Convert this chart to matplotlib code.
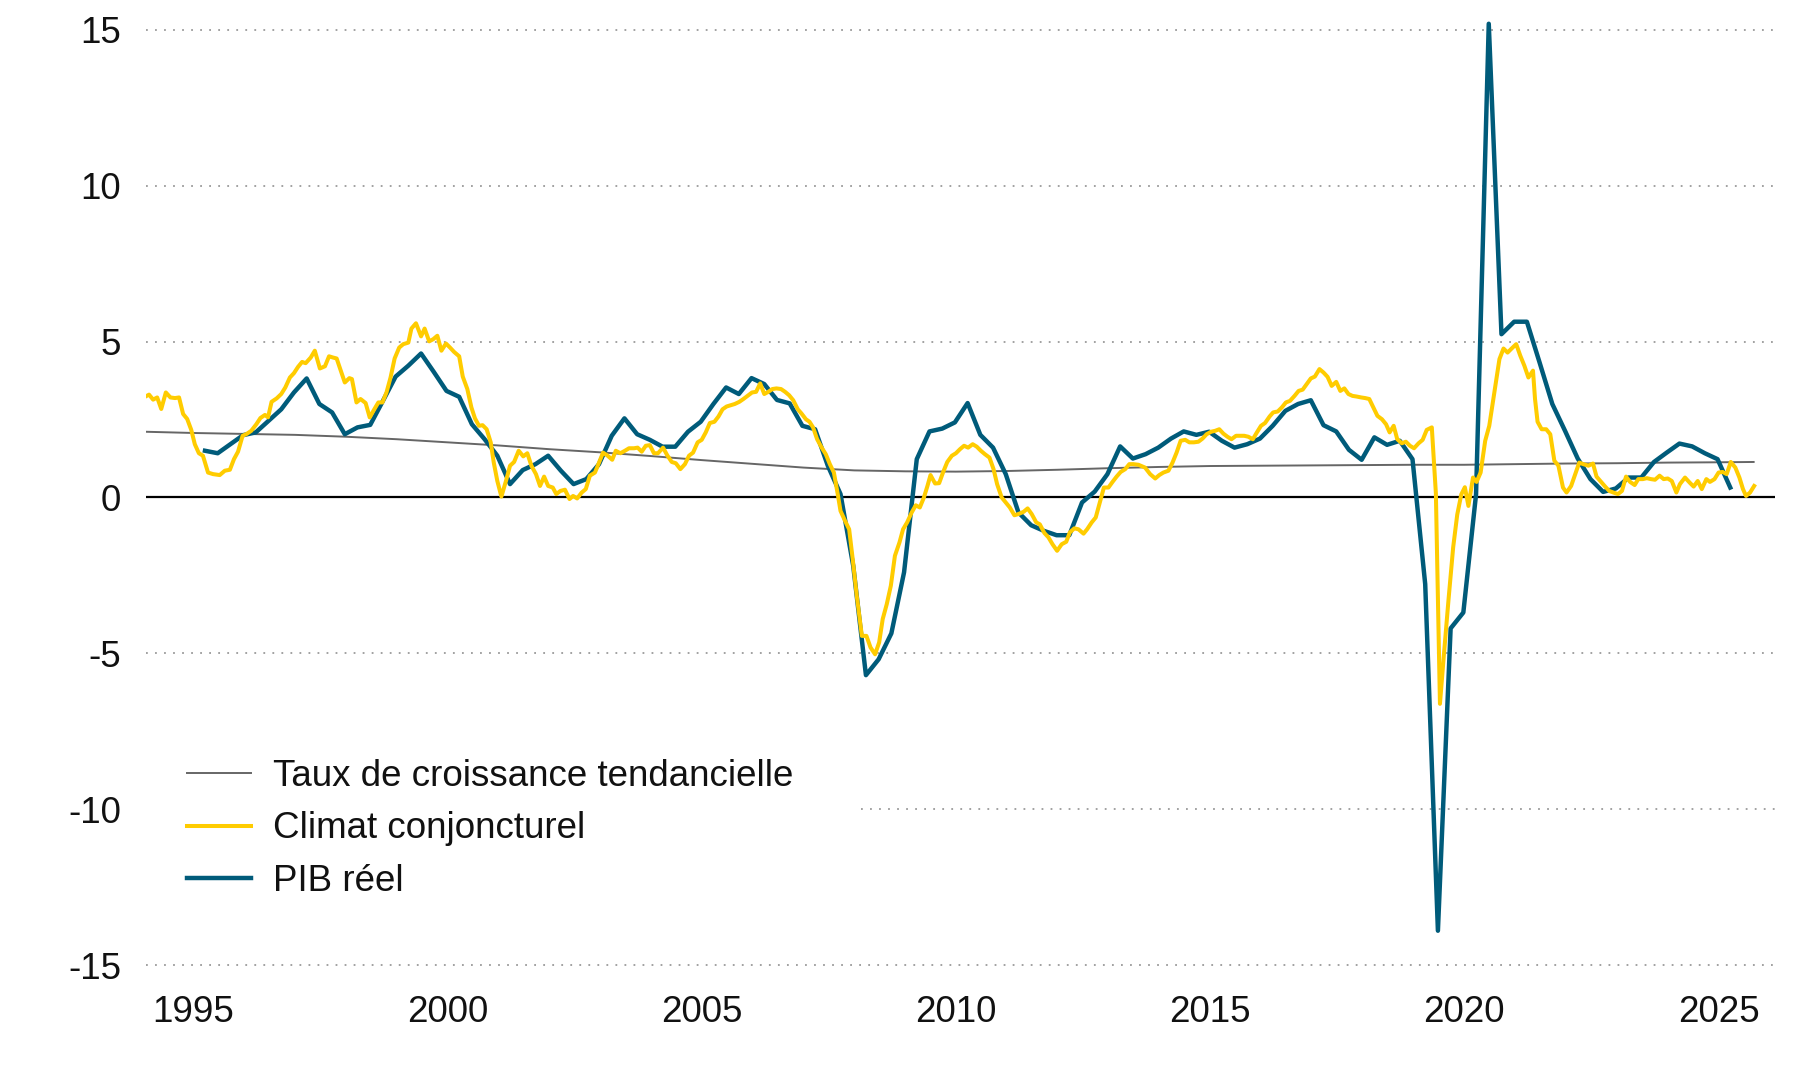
import matplotlib
matplotlib.use("Agg")
import matplotlib.pyplot as plt

plt.rcParams['font.family'] = ['Liberation Sans', 'DejaVu Sans']
plt.rcParams['axes.unicode_minus'] = False

# ---------------- data ----------------
trend_years = [1994.05, 1995, 1996, 1997, 1998, 1999, 2000, 2001, 2002, 2003, 2004,
               2005, 2006, 2007, 2008, 2009, 2010, 2011, 2012, 2013, 2014, 2015,
               2016, 2017, 2018, 2019, 2020, 2021, 2022, 2023, 2024, 2025, 2025.69]
trend_values = [2.11, 2.07, 2.04, 2.01, 1.95, 1.87, 1.77, 1.67, 1.55, 1.45, 1.33,
                1.20, 1.08, 0.96, 0.87, 0.84, 0.83, 0.85, 0.89, 0.94, 0.98, 1.01,
                1.02, 1.03, 1.04, 1.05, 1.05, 1.07, 1.09, 1.10, 1.12, 1.13, 1.14]

climat_years = [
    1994.05, 1994.13, 1994.21, 1994.29, 1994.37, 1994.46, 1994.55, 1994.64, 1994.72, 1994.80,
    1994.88, 1994.96, 1995.03, 1995.11, 1995.19, 1995.29, 1995.39, 1995.52, 1995.62, 1995.72,
    1995.80, 1995.88, 1995.97, 1996.05, 1996.14, 1996.24, 1996.32, 1996.41, 1996.47, 1996.54,
    1996.64, 1996.73, 1996.81, 1996.90, 1996.98, 1997.06, 1997.14, 1997.21, 1997.31, 1997.39,
    1997.49, 1997.59, 1997.67, 1997.75, 1997.82, 1997.90, 1997.98, 1998.07, 1998.12, 1998.21,
    1998.29, 1998.39, 1998.47, 1998.56, 1998.64, 1998.72, 1998.80, 1998.88, 1998.96, 1999.05,
    1999.13, 1999.23, 1999.29, 1999.38, 1999.48, 1999.55, 1999.64, 1999.72, 1999.80, 1999.88,
    1999.97, 2000.05, 2000.13, 2000.23, 2000.30, 2000.39, 2000.47, 2000.54, 2000.62, 2000.69,
    2000.77, 2000.85, 2000.91, 2000.98, 2001.06, 2001.15, 2001.23, 2001.31, 2001.40, 2001.49,
    2001.57, 2001.65, 2001.74, 2001.82, 2001.90, 2001.98, 2002.07, 2002.14, 2002.22, 2002.31,
    2002.40, 2002.47, 2002.55, 2002.64, 2002.72, 2002.80, 2002.90, 2002.98, 2003.06, 2003.15,
    2003.24, 2003.31, 2003.40, 2003.49, 2003.57, 2003.67, 2003.74, 2003.82, 2003.90, 2003.98,
    2004.06, 2004.14, 2004.24, 2004.32, 2004.41, 2004.49, 2004.58, 2004.67, 2004.75, 2004.83,
    2004.92, 2005.00, 2005.08, 2005.16, 2005.25, 2005.33, 2005.41, 2005.49, 2005.57, 2005.65,
    2005.74, 2005.82, 2005.90, 2005.99, 2006.07, 2006.15, 2006.23, 2006.31, 2006.39, 2006.47,
    2006.56, 2006.64, 2006.72, 2006.80, 2006.89, 2006.96, 2007.05, 2007.12, 2007.19, 2007.27,
    2007.36, 2007.44, 2007.52, 2007.60, 2007.67, 2007.73, 2007.82, 2007.90, 2007.97, 2008.05,
    2008.15, 2008.24, 2008.32, 2008.41, 2008.49, 2008.56, 2008.64, 2008.72, 2008.80, 2008.89,
    2008.96, 2009.04, 2009.13, 2009.21, 2009.29, 2009.37, 2009.44, 2009.50, 2009.59, 2009.67,
    2009.75, 2009.83, 2009.92, 2010.00, 2010.08, 2010.16, 2010.24, 2010.33, 2010.41, 2010.49,
    2010.57, 2010.66, 2010.74, 2010.81, 2010.90, 2010.98, 2011.06, 2011.15, 2011.23, 2011.33,
    2011.41, 2011.49, 2011.58, 2011.65, 2011.74, 2011.82, 2011.90, 2011.99, 2012.08, 2012.17,
    2012.24, 2012.33, 2012.41, 2012.51, 2012.58, 2012.67, 2012.75, 2012.83, 2012.91, 2013.00,
    2013.08, 2013.16, 2013.24, 2013.33, 2013.41, 2013.49, 2013.59, 2013.72, 2013.82, 2013.92,
    2014.00, 2014.08, 2014.18, 2014.26, 2014.34, 2014.42, 2014.51, 2014.59, 2014.68, 2014.77,
    2014.85, 2014.93, 2015.02, 2015.10, 2015.18, 2015.26, 2015.34, 2015.42, 2015.51, 2015.59,
    2015.67, 2015.75, 2015.84, 2015.92, 2016.00, 2016.08, 2016.17, 2016.24, 2016.33, 2016.41,
    2016.49, 2016.57, 2016.66, 2016.74, 2016.82, 2016.90, 2016.98, 2017.06, 2017.15, 2017.23,
    2017.31, 2017.39, 2017.48, 2017.56, 2017.64, 2017.72, 2017.80, 2017.88, 2017.97, 2018.05,
    2018.13, 2018.21, 2018.29, 2018.38, 2018.46, 2018.53, 2018.61, 2018.68, 2018.77, 2018.85,
    2018.93, 2019.01, 2019.10, 2019.18, 2019.26, 2019.36, 2019.44, 2019.52, 2019.60, 2019.69,
    2019.78, 2019.86, 2019.94, 2020.01, 2020.08, 2020.17, 2020.24, 2020.32, 2020.41, 2020.49,
    2020.56, 2020.62, 2020.69, 2020.77, 2020.85, 2020.93, 2021.02, 2021.10, 2021.18, 2021.26,
    2021.35, 2021.39, 2021.44, 2021.52, 2021.61, 2021.69, 2021.77, 2021.85, 2021.94, 2022.01,
    2022.10, 2022.18, 2022.26, 2022.34, 2022.44, 2022.53, 2022.60, 2022.69, 2022.77, 2022.85,
    2022.93, 2023.02, 2023.10, 2023.18, 2023.26, 2023.35, 2023.42, 2023.51, 2023.59, 2023.67,
    2023.75, 2023.84, 2023.92, 2024.00, 2024.08, 2024.17, 2024.24, 2024.34, 2024.43, 2024.51,
    2024.59, 2024.67, 2024.76, 2024.83, 2024.92, 2025.00, 2025.08, 2025.16, 2025.24, 2025.33,
    2025.41, 2025.48, 2025.54, 2025.62, 2025.70]
climat_values = [
    3.23, 3.30, 3.14, 3.21, 2.84, 3.37, 3.21, 3.19, 3.21, 2.68,
    2.52, 2.17, 1.71, 1.42, 1.34, 0.80, 0.75, 0.72, 0.86, 0.89,
    1.23, 1.47, 1.98, 2.04, 2.14, 2.35, 2.55, 2.65, 2.57, 3.07,
    3.18, 3.32, 3.53, 3.85, 3.99, 4.19, 4.35, 4.31, 4.49, 4.71,
    4.14, 4.21, 4.53, 4.49, 4.46, 4.07, 3.69, 3.83, 3.80, 3.05,
    3.16, 3.03, 2.57, 2.83, 3.05, 3.05, 3.37, 3.85, 4.46, 4.81,
    4.92, 4.97, 5.42, 5.59, 5.17, 5.42, 5.01, 5.08, 5.19, 4.71,
    4.94, 4.81, 4.67, 4.53, 3.88, 3.48, 2.89, 2.54, 2.30, 2.32,
    2.19, 1.77, 1.12, 0.53, 0.03, 0.53, 1.02, 1.14, 1.50, 1.32,
    1.42, 1.02, 0.75, 0.37, 0.67, 0.37, 0.32, 0.11, 0.21, 0.25,
    -0.05, 0.05, -0.03, 0.16, 0.27, 0.70, 0.80, 1.12, 1.44, 1.34,
    1.21, 1.50, 1.42, 1.50, 1.58, 1.58, 1.60, 1.47, 1.66, 1.68,
    1.42, 1.42, 1.60, 1.36, 1.14, 1.10, 0.91, 1.07, 1.34, 1.44,
    1.77, 1.85, 2.09, 2.39, 2.43, 2.60, 2.83, 2.92, 2.96, 3.00,
    3.07, 3.16, 3.26, 3.37, 3.39, 3.66, 3.32, 3.39, 3.48, 3.50,
    3.48, 3.39, 3.28, 3.12, 2.83, 2.70, 2.51, 2.43, 2.25, 1.87,
    1.60, 1.39, 1.07, 0.80, 0.16, -0.43, -0.75, -1.02, -1.98, -3.16,
    -4.44, -4.44, -4.81, -5.03, -4.65, -3.90, -3.42, -2.83, -1.87, -1.44,
    -1.02, -0.80, -0.48, -0.25, -0.32, 0.00, 0.37, 0.72, 0.45, 0.46,
    0.82, 1.14, 1.34, 1.42, 1.55, 1.66, 1.60, 1.71, 1.63, 1.50,
    1.39, 1.28, 0.91, 0.43, 0.00, -0.16, -0.32, -0.57, -0.53, -0.46,
    -0.35, -0.53, -0.80, -0.86, -1.14, -1.28, -1.50, -1.71, -1.50, -1.42,
    -1.12, -0.99, -1.02, -1.16, -1.02, -0.80, -0.64, -0.16, 0.32, 0.32,
    0.50, 0.67, 0.82, 0.91, 1.07, 1.07, 1.05, 0.96, 0.75, 0.61,
    0.72, 0.80, 0.86, 1.12, 1.44, 1.82, 1.85, 1.77, 1.77, 1.79,
    1.89, 2.03, 2.11, 2.14, 2.19, 2.05, 1.95, 1.87, 1.98, 1.98,
    1.98, 1.95, 1.87, 2.09, 2.30, 2.39, 2.60, 2.73, 2.76, 2.89,
    3.05, 3.10, 3.26, 3.42, 3.46, 3.64, 3.82, 3.88, 4.12, 4.01,
    3.87, 3.58, 3.71, 3.42, 3.50, 3.32, 3.26, 3.24, 3.21, 3.19,
    3.16, 2.89, 2.62, 2.51, 2.35, 2.09, 2.30, 1.87, 1.74, 1.79,
    1.66, 1.58, 1.74, 1.85, 2.17, 2.25, 0.13, -6.62, -5.00, -3.25,
    -1.60, -0.55, 0.10, 0.33, -0.27, 0.64, 0.50, 0.80, 1.82, 2.30,
    3.05, 3.69, 4.44, 4.78, 4.65, 4.78, 4.92, 4.55, 4.23, 3.85,
    4.07, 3.16, 2.43, 2.19, 2.19, 2.03, 1.18, 1.02, 0.32, 0.16,
    0.37, 0.75, 1.12, 1.07, 1.02, 1.09, 0.67, 0.50, 0.35, 0.21,
    0.16, 0.11, 0.21, 0.67, 0.50, 0.40, 0.59, 0.59, 0.62, 0.59,
    0.57, 0.70, 0.59, 0.61, 0.53, 0.16, 0.43, 0.64, 0.48, 0.35,
    0.53, 0.27, 0.59, 0.50, 0.59, 0.80, 0.82, 0.75, 1.14, 0.96,
    0.64, 0.27, 0.05, 0.16, 0.37]

pib_years = [
    1995.23, 1995.48, 1995.73, 1995.98, 1996.23, 1996.48, 1996.73, 1996.98,
    1997.23, 1997.48, 1997.73, 1997.98, 1998.23, 1998.48, 1998.73, 1998.98,
    1999.23, 1999.48, 1999.73, 1999.98, 2000.23, 2000.48, 2000.73, 2000.98,
    2001.23, 2001.48, 2001.73, 2001.98, 2002.23, 2002.48, 2002.73, 2002.98,
    2003.23, 2003.48, 2003.73, 2003.98, 2004.23, 2004.48, 2004.73, 2004.98,
    2005.23, 2005.48, 2005.73, 2005.98, 2006.23, 2006.48, 2006.73, 2006.98,
    2007.23, 2007.48, 2007.73, 2007.98, 2008.23, 2008.48, 2008.73, 2008.98,
    2009.23, 2009.48, 2009.73, 2009.98, 2010.23, 2010.48, 2010.73, 2010.98,
    2011.23, 2011.48, 2011.73, 2011.98, 2012.23, 2012.48, 2012.73, 2012.98,
    2013.23, 2013.48, 2013.73, 2013.98, 2014.23, 2014.48, 2014.73, 2014.98,
    2015.23, 2015.48, 2015.73, 2015.98, 2016.23, 2016.48, 2016.73, 2016.98,
    2017.23, 2017.48, 2017.73, 2017.98, 2018.23, 2018.48, 2018.73, 2018.98,
    2019.23, 2019.48, 2019.73, 2019.98, 2020.23, 2020.48, 2020.73, 2020.98,
    2021.23, 2021.48, 2021.73, 2021.98, 2022.23, 2022.48, 2022.73, 2022.98,
    2023.23, 2023.48, 2023.73, 2023.98, 2024.23, 2024.48, 2024.73, 2024.98,
    2025.23]
pib_values = [
    1.50, 1.42, 1.71, 2.00, 2.09, 2.46, 2.83, 3.37,
    3.82, 3.00, 2.73, 2.03, 2.25, 2.33, 3.10, 3.88,
    4.23, 4.62, 4.03, 3.42, 3.23, 2.35, 1.87, 1.34,
    0.43, 0.88, 1.07, 1.34, 0.86, 0.43, 0.59, 1.07,
    1.98, 2.54, 2.03, 1.85, 1.63, 1.63, 2.11, 2.43,
    3.00, 3.53, 3.32, 3.83, 3.64, 3.13, 3.02, 2.30,
    2.19, 1.02, 0.11, -2.19, -5.70, -5.19, -4.36, -2.40,
    1.23, 2.12, 2.21, 2.41, 3.03, 2.01, 1.60, 0.75,
    -0.48, -0.89, -1.07, -1.21, -1.21, -0.16, 0.19, 0.75,
    1.64, 1.25, 1.39, 1.60, 1.89, 2.12, 2.01, 2.11,
    1.82, 1.60, 1.71, 1.89, 2.30, 2.78, 3.00, 3.12,
    2.32, 2.12, 1.53, 1.21, 1.93, 1.69, 1.82, 1.23,
    -2.78, -13.90, -4.20, -3.69, 0.10, 15.20, 5.24, 5.64,
    5.64, 4.33, 3.00, 2.14, 1.25, 0.59, 0.18, 0.29,
    0.64, 0.64, 1.14, 1.44, 1.73, 1.64, 1.42, 1.23,
    0.32]

y_ticks = [-15, -10, -5, 0, 5, 10, 15]
x_ticks = [1995, 2000, 2005, 2010, 2015, 2020, 2025]
legend_labels = ["Taux de croissance tendancielle", "Climat conjoncturel", "PIB réel"]

# ---------------- figure ----------------
W, H = 1800, 1080
FS = 26.5
fig = plt.figure(figsize=(W / 100, H / 100), dpi=100)
ax_left, ax_right, ax_top, ax_bottom = 146, 1775, 14.4, 980.6
ax = fig.add_axes([ax_left / W, 1 - ax_bottom / H,
                   (ax_right - ax_left) / W, (ax_bottom - ax_top) / H])
ax.set_xlim(1994.07, 2026.11)
ax.set_ylim(-15.5, 15.5)
for s in ax.spines.values():
    s.set_visible(False)

grid_style = dict(color='#9a9a9a', lw=1.3, ls=(0, (1, 4.0)), zorder=1)
for v in y_ticks:
    if v == -10:
        # part of this gridline is hidden behind the legend box
        ax.axhline(v, xmin=(861 - ax_left) / (ax_right - ax_left), **grid_style)
    elif v != 0:
        ax.axhline(v, **grid_style)
ax.axhline(0, color='black', lw=1.6, zorder=1.5)

l_trend, = ax.plot(trend_years, trend_values, color='#666666', lw=1.4, zorder=2)
l_pib, = ax.plot(pib_years, pib_values, color='#005b7a', lw=3.2, zorder=3)
l_clim, = ax.plot(climat_years, climat_values, color='#ffcc00', lw=2.9, zorder=4)

ax.set_yticks(y_ticks)
ax.set_yticklabels([str(v) for v in y_ticks])
ax.set_xticks(x_ticks)
ax.set_xticklabels([str(v) for v in x_ticks])
ax.tick_params(axis='y', length=0, pad=18.0, labelsize=FS, labelcolor='#111111')
ax.tick_params(axis='x', length=0, pad=10.5, labelsize=FS, labelcolor='#111111')

leg = ax.legend([l_trend, l_clim, l_pib], legend_labels,
                loc='center left', bbox_to_anchor=(ax_left / W, 1 - 829 / H),
                bbox_transform=fig.transFigure, frameon=False,
                borderpad=1.12, borderaxespad=0, handlelength=1.72,
                handletextpad=0.62, labelspacing=0.47, fontsize=FS)
leg.set_zorder(5)
for t in leg.get_texts():
    t.set_color('#111111')

fig.savefig('out.png', dpi=100)
